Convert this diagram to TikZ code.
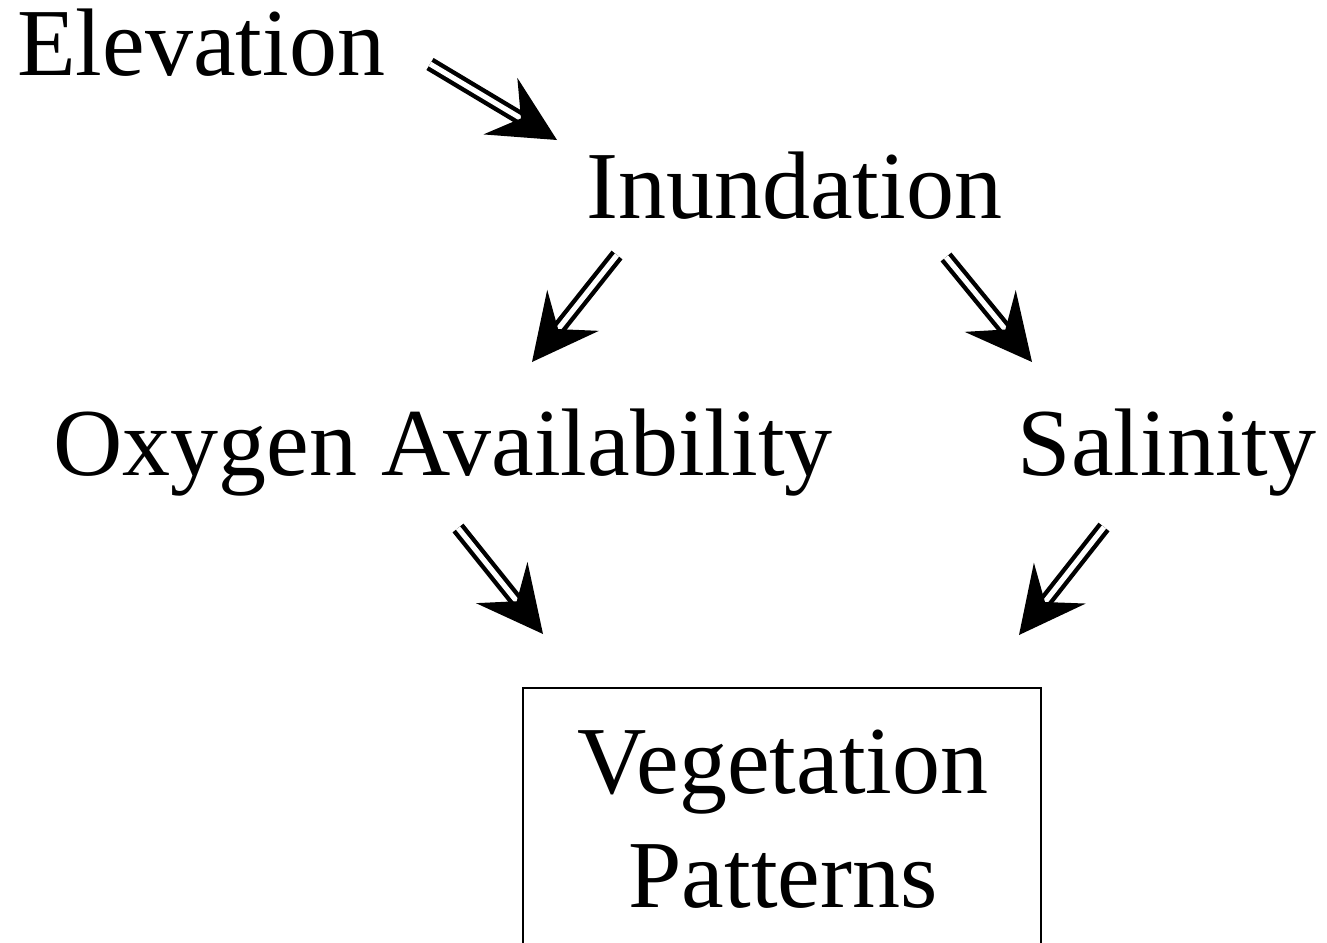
\documentclass[tikz,border=0pt]{standalone}
\usepackage{fontspec}
\setmainfont{Liberation Serif}
\usetikzlibrary{calc}
\newcommand\dblarrow[2]{%
  \draw[shaft] (#1) -- ($(#2)!19pt!(#1)$);
  \fill ($(#2)$) -- ($($(#2)!33pt!(#1)$)!16.5pt!90:(#2)$) -- ($(#2)!21pt!(#1)$) -- ($($(#2)!33pt!(#1)$)!16.5pt!-90:(#2)$) -- cycle;
}
\begin{document}
\begin{tikzpicture}[x=0.5pt,y=-0.5pt,
  lbl/.style={font=\fontsize{48}{55}\selectfont, inner sep=0pt, anchor=base},
  shaft/.style={line width=2.2pt, double, double distance=2.6pt},
  boxst/.style={line width=1pt}]
\useasboundingbox (0,0) rectangle (1327,942);
\clip (0,0) rectangle (1327,942);
\fill[white] (0,0) rectangle (1327,942);
\node[lbl] (elev) at (201,75) {Elevation};
\node[lbl] (inun) at (794,218) {Inundation};
\node[lbl] (oxy) at (443,475) {Oxygen Availability};
\node[lbl] (sal) at (1167,475) {Salinity};
\node[lbl] (veg1) at (783,793) {Vegetation};
\node[lbl] (veg2) at (783,907) {Patterns};
\coordinate (boxa) at (523,688);
\coordinate (boxb) at (1041,980);
\draw[boxst] (boxa) rectangle (boxb);
\coordinate (a1t) at (430,64);
\coordinate (a1h) at (557,140);
\coordinate (a2t) at (617,255);
\coordinate (a2h) at (532,362);
\coordinate (a3t) at (946,257);
\coordinate (a3h) at (1032,362);
\coordinate (a4t) at (458,528);
\coordinate (a4h) at (543,634);
\coordinate (a5t) at (1104,527);
\coordinate (a5h) at (1019,635);
\dblarrow{a1t}{a1h}
\dblarrow{a2t}{a2h}
\dblarrow{a3t}{a3h}
\dblarrow{a4t}{a4h}
\dblarrow{a5t}{a5h}
\end{tikzpicture}
\end{document}
